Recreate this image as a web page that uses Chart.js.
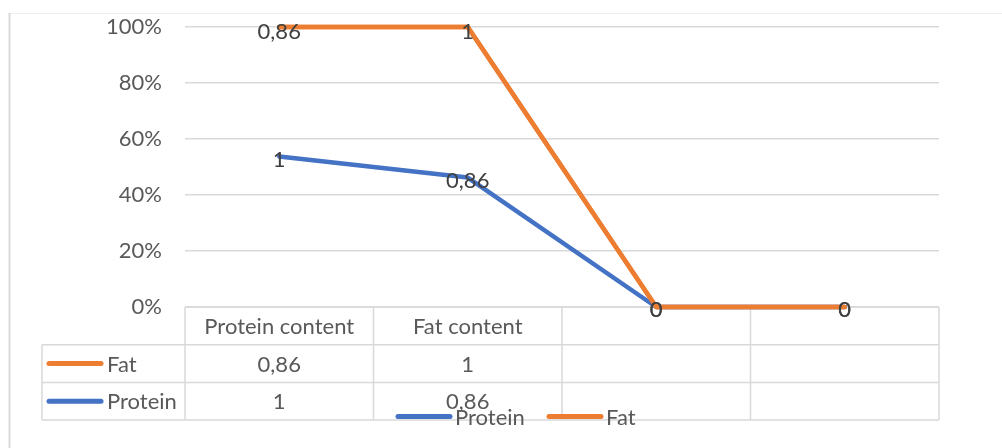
<!DOCTYPE html>
<html>
<head>
<meta charset="utf-8">
<script src="https://cdn.jsdelivr.net/npm/chart.js@4.4.1/dist/chart.umd.min.js"></script>
<style>
  html, body { margin: 0; padding: 0; background: #ffffff; }
  #wrap { width: 1002px; height: 448px; position: relative; }
</style>
</head>
<body>
<div id="wrap"><canvas id="chart" width="1002" height="448"></canvas></div>
<script>
// Category labels along the x axis (the last two columns are empty)
const categories = ['Protein content', 'Fat content', '', ''];
// Raw series values; null = empty cell
const protein = [1, 0.86, null, null];
const fat = [0.86, 1, null, null];
// Y axis tick values (share of the category total)
const yTicks = [0, 0.2, 0.4, 0.6, 0.8, 1];

const FONT = 'Lato';
const FONT_SIZE = 22;
const TEXT = '#595959';
const LABEL_TEXT = '#404040';
const GRID = '#d9d9d9';
const BLUE = '#4472C4';
const ORANGE = '#ED7D31';

// 100% stacked: each value as a share of its category total
const totals = categories.map((_, i) => (protein[i] || 0) + (fat[i] || 0));
const share = arr => arr.map((v, i) => totals[i] ? (v || 0) / totals[i] : 0);
const fmt = v => String(v == null ? 0 : v).replace('.', ',');
const fmtCell = v => v == null ? '' : String(v).replace('.', ',');

const font = (size) => `${size}px ${FONT}`;

// Plot rectangle edges (canvas pixels)
const PLOT = { left: 185, right: 939, top: 27, bottom: 307 };
const ROW_H = 37.7;
const TABLE_LEFT = 42;

function tableGeometry(chart) {
  const area = chart.chartArea;
  const n = categories.length;
  const colW = (area.right - area.left) / n;
  const bounds = [];
  for (let i = 0; i <= n; i++) bounds.push(area.left + i * colW);
  const top = area.bottom;
  const rows = [top, top + ROW_H, top + 2 * ROW_H, top + 3 * ROW_H];
  return { bounds, rows, n };
}

// Frame and table rules go under the lines
const tableGrid = {
  id: 'tableGrid',
  beforeDatasetsDraw(chart) {
    const ctx = chart.ctx;
    const { bounds, rows, n } = tableGeometry(chart);
    ctx.save();
    ctx.strokeStyle = '#f0f0f0';
    ctx.lineWidth = 1;
    ctx.beginPath();
    ctx.moveTo(8, 13.5); ctx.lineTo(1002, 13.5);
    ctx.stroke();
    ctx.strokeStyle = GRID;
    ctx.lineWidth = 2;
    ctx.beginPath();
    ctx.moveTo(9.5, 13); ctx.lineTo(9.5, 448);
    ctx.stroke();

    ctx.lineWidth = 1.5;
    ctx.beginPath();
    ctx.moveTo(bounds[0], rows[0]); ctx.lineTo(bounds[n], rows[0]);
    for (let r = 1; r <= 3; r++) {
      ctx.moveTo(TABLE_LEFT, rows[r]); ctx.lineTo(bounds[n], rows[r]);
    }
    bounds.forEach(x => { ctx.moveTo(x, rows[0]); ctx.lineTo(x, rows[3]); });
    ctx.moveTo(TABLE_LEFT, rows[1]); ctx.lineTo(TABLE_LEFT, rows[3]);
    ctx.stroke();
    ctx.restore();
  }
};

// Upper series is painted last so it sits over the lower one where they meet;
// then the value labels are centred on each point
const valueLabels = {
  id: 'valueLabels',
  afterDatasetsDraw(chart) {
    chart.getDatasetMeta(1).controller.draw();
    const ctx = chart.ctx;
    ctx.save();
    ctx.font = font(FONT_SIZE);
    ctx.fillStyle = LABEL_TEXT;
    ctx.textAlign = 'center';
    ctx.textBaseline = 'middle';
    chart.data.datasets.forEach((ds, di) => {
      const meta = chart.getDatasetMeta(di);
      meta.data.forEach((pt, i) => {
        const y = Math.max(pt.y + 3, chart.chartArea.top + 5);
        ctx.fillText(fmt(ds.raw[i]), pt.x, y);
      });
    });
    ctx.restore();
  }
};

// Table text, series keys and the legend strip
const tableText = {
  id: 'tableText',
  afterDraw(chart) {
    const ctx = chart.ctx;
    const xs = chart.scales.x;
    const { rows } = tableGeometry(chart);
    ctx.save();
    ctx.font = font(FONT_SIZE);
    ctx.fillStyle = TEXT;
    ctx.textBaseline = 'middle';
    ctx.textAlign = 'center';
    // header row: category names
    categories.forEach((c, i) => {
      ctx.fillText(c, xs.getPixelForValue(i), (rows[0] + rows[1]) / 2 + 1);
    });
    // one row per series, top row is the last series
    const tableRows = [
      { name: 'Fat', color: ORANGE, values: fat },
      { name: 'Protein', color: BLUE, values: protein }
    ];
    tableRows.forEach((row, r) => {
      const cy = (rows[r + 1] + rows[r + 2]) / 2 + 1;
      ctx.strokeStyle = row.color;
      ctx.lineWidth = 5;
      ctx.lineCap = 'round';
      ctx.beginPath();
      ctx.moveTo(49, cy - 1); ctx.lineTo(101, cy - 1);
      ctx.stroke();
      ctx.textAlign = 'left';
      ctx.fillStyle = TEXT;
      ctx.fillText(row.name, 107, cy);
      ctx.textAlign = 'center';
      row.values.forEach((v, i) => {
        ctx.fillText(fmtCell(v), xs.getPixelForValue(i), cy);
      });
    });

    // legend along the bottom
    const legend = [
      { name: 'Protein', color: BLUE, x: 398 },
      { name: 'Fat', color: ORANGE, x: 549 }
    ];
    const ly = 416.5;
    legend.forEach(item => {
      ctx.strokeStyle = item.color;
      ctx.lineWidth = 5;
      ctx.lineCap = 'round';
      ctx.beginPath();
      ctx.moveTo(item.x, ly); ctx.lineTo(item.x + 52, ly);
      ctx.stroke();
      ctx.textAlign = 'left';
      ctx.fillStyle = TEXT;
      ctx.fillText(item.name, item.x + 57, ly + 1);
    });
    ctx.restore();
  }
};

const lineStyle = color => ({
  borderColor: color,
  backgroundColor: color,
  borderWidth: 4.5,
  pointRadius: 0,
  pointHoverRadius: 0,
  tension: 0,
  fill: false,
  clip: false,
  borderCapStyle: 'round',
  borderJoinStyle: 'round'
});

new Chart(document.getElementById('chart'), {
  type: 'line',
  data: {
    labels: categories,
    datasets: [
      Object.assign({ label: 'Protein', data: share(protein), raw: protein }, lineStyle(BLUE)),
      Object.assign({ label: 'Fat', data: share(fat), raw: fat }, lineStyle(ORANGE))
    ]
  },
  options: {
    responsive: false,
    animation: false,
    events: [],
    layout: { padding: { left: 0, right: 1002 - PLOT.right, top: PLOT.top, bottom: 448 - PLOT.bottom } },
    plugins: { legend: { display: false }, tooltip: { enabled: false } },
    scales: {
      x: { display: false, offset: true, ticks: { display: false } },
      y: {
        stacked: true,
        min: 0,
        max: 1,
        afterBuildTicks(scale) { scale.ticks = yTicks.map(v => ({ value: v })); },
        afterFit(scale) { scale.width = PLOT.left; },
        ticks: {
          padding: 0,
          color: TEXT,
          font: { family: FONT, size: FONT_SIZE },
          callback: v => Math.round(v * 100) + '%'
        },
        // invisible tick marks keep the labels clear of the plot edge
        grid: { color: GRID, lineWidth: 1.5, drawTicks: true, tickLength: 23, tickColor: 'rgba(0,0,0,0)' },
        border: { display: false }
      }
    }
  },
  plugins: [tableGrid, valueLabels, tableText]
});
</script>
</body>
</html>
